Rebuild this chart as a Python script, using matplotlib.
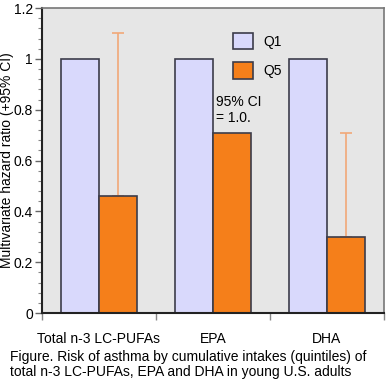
import matplotlib
matplotlib.use("Agg")
from matplotlib import pyplot as plt
from matplotlib.ticker import MultipleLocator
import numpy as np

plt.rcParams['font.family'] = ['Liberation Sans', 'DejaVu Sans']

categories = ["Total n-3 LC-PUFAs", "EPA", "DHA"]
q1_values = [1.0, 1.0, 1.0]
q5_values = [0.46, 0.71, 0.30]
q5_upper_ci = [1.10, None, 0.71]

q1_color = "#d9d9fc"
q5_color = "#f57f1a"
err_color = "#f2a878"
edge = "#3c3c4a"

fig = plt.figure(figsize=(3.86, 3.92), dpi=100)
ax = fig.add_axes([0.1088, 0.2015, 0.886, 0.778])
ax.set_facecolor("#e6e6e6")

centers = np.arange(len(categories)) + 0.5
w = 1 / 3
ax.bar(centers - w / 2, q1_values, width=w, color=q1_color, edgecolor=edge, linewidth=1.2, label="Q1", zorder=2)
ax.bar(centers + w / 2, q5_values, width=w, color=q5_color, edgecolor=edge, linewidth=1.2, label="Q5", zorder=2)

# upper CI only
for c, v, up in zip(centers, q5_values, q5_upper_ci):
    if up is None:
        continue
    ax.errorbar(c + w / 2, v, yerr=[[0], [up - v]], fmt="none", ecolor=err_color,
                elinewidth=1.2, capsize=4, capthick=1.2, zorder=1)

ax.text(centers[1] + 0.03, 0.74, "95% CI\n= 1.0.", fontsize=10, ha="left", va="bottom",
        linespacing=1.15)

ax.set_xlim(0, 3)
ax.set_ylim(0, 1.2)
ax.set_xticks([0, 1, 2, 3])
ax.set_xticklabels([])
ax.set_xticks(centers, minor=True)
ax.set_xticklabels(categories, minor=True, fontsize=10)
ax.tick_params(axis="x", which="minor", length=0, pad=14)
ax.tick_params(axis="x", which="major", length=5, width=1, color="#888888", direction="out")

ax.yaxis.set_major_locator(MultipleLocator(0.2))
ax.yaxis.set_minor_locator(MultipleLocator(0.04))
ax.set_yticks([0, 0.2, 0.4, 0.6, 0.8, 1.0, 1.2])
ax.set_yticklabels(["0", "0.2", "0.4", "0.6", "0.8", "1", "1.2"], fontsize=10)
ax.tick_params(axis="y", which="major", length=5, width=1, color="#666666", pad=1.5)
ax.tick_params(axis="y", which="minor", length=3, width=0.8, color="#888888")

ax.set_ylabel("Multivariate hazard ratio (+95% CI)", fontsize=10)
ax.yaxis.set_label_coords(-0.082, 0.5)

for s in ["left", "bottom"]:
    ax.spines[s].set_color("#222222")
    ax.spines[s].set_linewidth(1.5)
for s in ["top", "right"]:
    ax.spines[s].set_color("#777777")
    ax.spines[s].set_linewidth(1.2)

ax.legend(loc="upper left", bbox_to_anchor=(0.522, 0.96), frameon=False, fontsize=10,
          handlelength=1.45, handleheight=1.45, labelspacing=0.94, handletextpad=0.75,
          borderpad=0.4)

fig.text(0.026, 0.032, "Figure. Risk of asthma by cumulative intakes (quintiles) of\n"
         "total n-3 LC-PUFAs, EPA and DHA in young U.S. adults",
         fontsize=10, ha="left", va="bottom", linespacing=1.15)

fig.savefig("out.png", dpi=100)
